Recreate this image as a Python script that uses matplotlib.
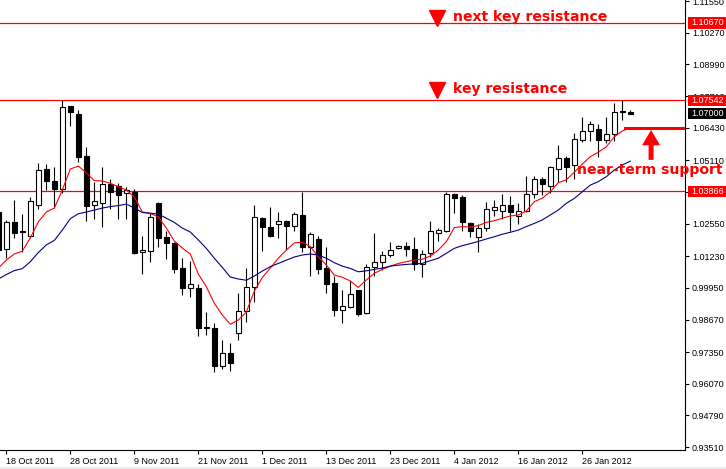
import matplotlib.pyplot as plt
import matplotlib.transforms as mtransforms
from matplotlib.patches import Rectangle
import numpy as np

# daily candles, first bar is partly hidden at the left edge
opens = [1.0302, 1.0154, 1.0261, 1.0222, 1.0206, 1.0330, 1.0475, 1.0428, 1.0394, 1.0731,
         1.0699, 1.0529, 1.0330, 1.0338, 1.0416, 1.0408, 1.0378, 1.0384, 1.0139, 1.0143,
         1.0339, 1.0200, 1.0177, 1.0075, 0.9993, 0.9994, 0.9837, 0.9833, 0.9680, 0.9732,
         0.9814, 0.9900, 0.9997, 1.0278, 1.0241, 1.0252, 1.0266, 1.0244, 1.0290, 1.0162,
         1.0192, 1.0074, 1.0015, 0.9904, 0.9916, 0.9986, 0.9892, 1.0078, 1.0099, 1.0127,
         1.0155, 1.0164, 1.0151, 1.0092, 1.0135, 1.0216, 1.0225, 1.0374, 1.0362, 1.0259,
         1.0200, 1.0236, 1.0310, 1.0307, 1.0330, 1.0285, 1.0307, 1.0374, 1.0434, 1.0408,
         1.0475, 1.0519, 1.0491, 1.0593, 1.0629, 1.0637, 1.0593, 1.0618, 1.0711, 1.0705]
highs = [1.0327, 1.0270, 1.0351, 1.0294, 1.0363, 1.0500, 1.0496, 1.0483, 1.0754, 1.0733,
         1.0715, 1.0565, 1.0425, 1.0483, 1.0435, 1.0421, 1.0405, 1.0395, 1.0205, 1.0299,
         1.0343, 1.0225, 1.0179, 1.0114, 1.0104, 1.0010, 0.9896, 0.9852, 0.9783, 0.9772,
         0.9974, 1.0075, 1.0331, 1.0281, 1.0322, 1.0301, 1.0270, 1.0301, 1.0382, 1.0220,
         1.0205, 1.0160, 1.0042, 0.9985, 1.0023, 0.9988, 1.0092, 1.0217, 1.0144, 1.0181,
         1.0168, 1.0179, 1.0201, 1.0148, 1.0266, 1.0236, 1.0383, 1.0380, 1.0371, 1.0263,
         1.0253, 1.0343, 1.0349, 1.0373, 1.0366, 1.0338, 1.0446, 1.0446, 1.0442, 1.0488,
         1.0573, 1.0529, 1.0621, 1.0685, 1.0670, 1.0658, 1.0687, 1.0742, 1.0754, 1.0714]
lows = [1.0108, 1.0114, 1.0198, 1.0141, 1.0195, 1.0313, 1.0392, 1.0317, 1.0378, 1.0651,
        1.0503, 1.0267, 1.0275, 1.0240, 1.0313, 1.0273, 1.0275, 1.0133, 1.0050, 1.0101,
        1.0161, 1.0111, 1.0056, 0.9967, 0.9959, 0.9802, 0.9805, 0.9656, 0.9667, 0.9659,
        0.9785, 0.9858, 0.9939, 1.0145, 1.0202, 1.0198, 1.0148, 1.0225, 1.0141, 1.0044,
        1.0050, 0.9973, 0.9880, 0.9854, 0.9914, 0.9880, 0.9890, 1.0044, 1.0067, 1.0121,
        1.0153, 1.0125, 1.0067, 1.0040, 1.0121, 1.0185, 1.0223, 1.0299, 1.0225, 1.0200,
        1.0141, 1.0226, 1.0286, 1.0272, 1.0227, 1.0252, 1.0303, 1.0357, 1.0371, 1.0379,
        1.0425, 1.0425, 1.0437, 1.0584, 1.0589, 1.0525, 1.0580, 1.0589, 1.0676, 1.0697]
closes = [1.0148, 1.0261, 1.0218, 1.0224, 1.0346, 1.0471, 1.0427, 1.0396, 1.0726, 1.0708,
          1.0526, 1.0328, 1.0346, 1.0415, 1.0382, 1.0372, 1.0391, 1.0136, 1.0147, 1.0282,
          1.0198, 1.0175, 1.0072, 0.9995, 1.0010, 0.9834, 0.9832, 0.9680, 0.9732, 0.9692,
          0.9900, 0.9998, 1.0281, 1.0240, 1.0206, 1.0267, 1.0244, 1.0294, 1.0162, 1.0213,
          1.0072, 1.0010, 0.9907, 0.9920, 0.9969, 0.9890, 1.0078, 1.0100, 1.0127, 1.0147,
          1.0163, 1.0153, 1.0090, 1.0131, 1.0224, 1.0228, 1.0374, 1.0360, 1.0261, 1.0224,
          1.0239, 1.0313, 1.0322, 1.0330, 1.0303, 1.0308, 1.0374, 1.0434, 1.0416, 1.0484,
          1.0519, 1.0486, 1.0596, 1.0629, 1.0657, 1.0593, 1.0618, 1.0705, 1.0707, 1.0700]

# moving averages as drawn on the chart
ma_fast = [1.0075, 1.0108, 1.0132, 1.0144, 1.0197, 1.0262, 1.0302, 1.0318, 1.0391, 1.0476,
           1.0488, 1.0461, 1.0429, 1.0428, 1.0418, 1.0405, 1.0391, 1.0363, 1.0302, 1.0297,
           1.0282, 1.0237, 1.0185, 1.0156, 1.0132, 1.0051, 1.0000, 0.9933, 0.9885, 0.9848,
           0.9865, 0.9897, 0.9982, 1.0037, 1.0075, 1.0115, 1.0148, 1.0177, 1.0180, 1.0162,
           1.0121, 1.0088, 1.0047, 1.0038, 1.0023, 0.9997, 1.0027, 1.0054, 1.0070, 1.0083,
           1.0094, 1.0101, 1.0108, 1.0111, 1.0124, 1.0148, 1.0182, 1.0239, 1.0243, 1.0241,
           1.0247, 1.0260, 1.0267, 1.0277, 1.0286, 1.0290, 1.0306, 1.0344, 1.0358, 1.0384,
           1.0421, 1.0432, 1.0463, 1.0496, 1.0526, 1.0544, 1.0566, 1.0606, 1.0630, 1.0643]
ma_slow = [1.0031, 1.0049, 1.0065, 1.0073, 1.0101, 1.0138, 1.0169, 1.0187, 1.0229, 1.0275,
           1.0295, 1.0302, 1.0310, 1.0318, 1.0324, 1.0328, 1.0334, 1.0319, 1.0300, 1.0297,
           1.0294, 1.0277, 1.0260, 1.0237, 1.0221, 1.0189, 1.0155, 1.0115, 1.0078, 1.0039,
           1.0031, 1.0026, 1.0043, 1.0063, 1.0081, 1.0094, 1.0107, 1.0120, 1.0128, 1.0132,
           1.0128, 1.0115, 1.0097, 1.0083, 1.0074, 1.0060, 1.0064, 1.0070, 1.0075, 1.0083,
           1.0087, 1.0090, 1.0092, 1.0094, 1.0105, 1.0115, 1.0135, 1.0155, 1.0166, 1.0174,
           1.0183, 1.0193, 1.0202, 1.0212, 1.0220, 1.0229, 1.0243, 1.0256, 1.0270, 1.0290,
           1.0310, 1.0337, 1.0357, 1.0384, 1.0411, 1.0425, 1.0445, 1.0472, 1.0492, 1.0508]

date_labels = ['18 Oct 2011', '28 Oct 2011', '9 Nov 2011', '21 Nov 2011', '1 Dec 2011',
               '13 Dec 2011', '23 Dec 2011', '4 Jan 2012', '16 Jan 2012', '26 Jan 2012']
date_bars = [1, 9, 17, 25, 33, 41, 49, 57, 65, 73]
price_ticks = [1.11550, 1.10270, 1.08990, 1.07710, 1.06430, 1.05110, 1.03830, 1.02550,
               1.01230, 0.99950, 0.98670, 0.97350, 0.96070, 0.94790, 0.93510]

levels = [1.10670, 1.07542, 1.03866]
current_price = 1.07000
support = 1.06430

plt.rcParams['font.family'] = ['Liberation Sans', 'DejaVu Sans']

fig = plt.figure(figsize=(7.26, 4.69), dpi=100)
fig.patches.append(Rectangle((0, 0), 1, 2 / 469, transform=fig.transFigure,
                             facecolor='#ececec', edgecolor='none'))
ax = fig.add_axes([0, 19 / 469, 685 / 726, 450 / 469])

o = np.array(opens)
h = np.array(highs)
l = np.array(lows)
c = np.array(closes)
idx = np.arange(len(o))
up = c >= o

ax.vlines(idx, l, h, color='black', lw=0.8, zorder=2)
body = np.maximum(np.abs(c - o), 0.00002)
ax.bar(idx, body, bottom=np.minimum(o, c), width=0.58,
       color=np.where(up, 'white', 'black'), edgecolor='black', linewidth=0.8, zorder=3)

ax.plot(idx, ma_fast, color='#ff0000', lw=0.8, zorder=4)
ax.plot(idx, ma_slow, color='#000080', lw=0.8, zorder=4)

for lv in levels:
    ax.axhline(lv, color='#ff0000', lw=0.9, zorder=1)

ax.set_xlim(0.21, 85.84)
ax.set_ylim(0.9339, 1.1160)

for s in ['left', 'top']:
    ax.spines[s].set_visible(False)
for s in ['right', 'bottom']:
    ax.spines[s].set_linewidth(0.8)

ax.yaxis.tick_right()
ax.set_yticks(price_ticks)
ax.set_yticklabels(['%.5f' % p for p in price_ticks])
ax.tick_params(axis='y', direction='out', length=3, width=0.8, pad=2, labelsize=6.5)
ax.set_xticks(date_bars)
ax.set_xticklabels(date_labels, ha='left')
ax.tick_params(axis='x', direction='out', length=3, width=0.8, pad=2, labelsize=6.5)

# price boxes on the right scale
trans = mtransforms.blended_transform_factory(ax.transAxes, ax.transData)
for lv, col in [(levels[0], '#ff0000'), (levels[1], '#ff0000'), (levels[2], '#ff0000'),
                (current_price, 'black')]:
    ax.add_patch(Rectangle((1.0044, lv - 0.00225), 0.056, 0.0045, transform=trans,
                           facecolor=col, edgecolor='none', clip_on=False, zorder=10))
    ax.text(1.0328, lv, '%.5f' % lv, transform=trans, color='white', ha='center',
            va='center', fontsize=6.5, zorder=11, clip_on=False)

# annotations
font = dict(family='DejaVu Sans', fontsize=10.1, fontweight='bold', color='#ff0000')
ax.plot([54.8], [1.1089], marker='v', markersize=12, color='#ff0000', zorder=6)
ax.text(56.8, 1.1093, 'next key resistance', va='center', ha='left', zorder=6, **font)
ax.plot([54.8], [1.0796], marker='v', markersize=12, color='#ff0000', zorder=6)
ax.text(56.9, 1.0800, 'key resistance', va='center', ha='left', zorder=6, **font)

ax.plot([78.3, 85.84], [support, support], color='#ff0000', lw=2.2, zorder=5)
ax.annotate('', xy=(81.6, 1.0634), xytext=(81.6, 1.0513),
            arrowprops=dict(facecolor='#ff0000', edgecolor='none', width=3.6,
                            headwidth=13, headlength=11, shrink=0), zorder=6)
ax.text(72.4, 1.0472, 'near-term support', va='center', ha='left', zorder=12,
        clip_on=False, **font)

fig.savefig('out.png', dpi=100)
